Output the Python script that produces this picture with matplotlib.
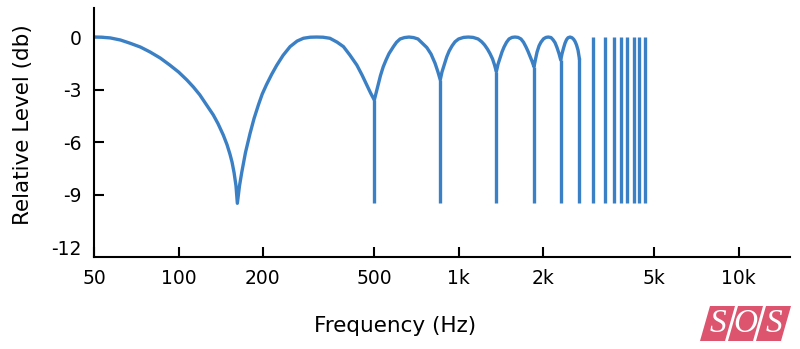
import matplotlib
matplotlib.use("Agg")
import matplotlib.pyplot as plt
from matplotlib.patches import Polygon

# comb filter response
lobe1_f = [50, 53, 57, 62, 67, 73, 79, 86, 93, 100, 107, 113, 119, 126, 133, 138.3,
           144.4, 148.9, 152.6, 155.2, 157.8, 160.3, 162.1]
lobe1_db = [0.0, -0.01, -0.05, -0.17, -0.35, -0.57, -0.85, -1.2, -1.6, -2.0, -2.45,
            -2.86, -3.3, -3.89, -4.45, -4.95, -5.6, -6.15, -6.7, -7.15, -7.75, -8.5, -9.5]

lobe2_f = [162.1, 165, 168, 173.3, 180, 186, 193, 199, 206, 215, 224, 236, 250, 265, 279,
           295, 311, 328, 347, 368, 388, 409, 433, 452, 470, 485, 500]
lobe2_db = [-9.5, -8.5, -7.75, -6.6, -5.5, -4.65, -3.85, -3.25, -2.72, -2.13, -1.62,
            -1.05, -0.55, -0.23, -0.07, -0.01, 0.0, -0.01, -0.07, -0.29, -0.55, -1.03,
            -1.6, -2.17, -2.74, -3.2, -3.6]

lobe3_f = [500, 509, 515, 526, 538, 551, 564, 585, 600, 618, 641, 665, 690, 716, 740,
           770, 797, 824, 844, 860]
lobe3_db = [-3.6, -3.1, -2.75, -2.2, -1.7, -1.3, -0.95, -0.55, -0.3, -0.11, -0.03, 0.0,
            -0.03, -0.11, -0.33, -0.6, -0.97, -1.5, -2.0, -2.45]

lobe4_f = [860, 872, 884, 907, 925, 948, 971, 1000, 1042, 1083, 1126, 1174, 1209, 1238,
           1269, 1295, 1322, 1344, 1364]
lobe4_db = [-2.45, -2.0, -1.7, -1.13, -0.8, -0.5, -0.27, -0.11, -0.02, 0.0, -0.02, -0.11,
            -0.27, -0.45, -0.7, -0.95, -1.25, -1.6, -1.98]

lobe5_f = [1364, 1383, 1406, 1429, 1453, 1483, 1514, 1552, 1590, 1630, 1670, 1706, 1741,
           1770, 1799, 1829, 1859]
lobe5_db = [-1.98, -1.55, -1.2, -0.85, -0.57, -0.3, -0.11, -0.02, 0.0, -0.02, -0.11, -0.3,
            -0.57, -0.82, -1.09, -1.38, -1.7]

lobe6_f = [1859, 1883, 1906, 1938, 1969, 2011, 2052, 2091, 2138, 2173, 2210, 2246, 2284, 2316]
lobe6_db = [-1.7, -1.25, -0.86, -0.5, -0.29, -0.1, -0.02, 0.0, -0.03, -0.15, -0.32, -0.6,
            -0.95, -1.31]

lobe7_f = [2316, 2341, 2370, 2399, 2429, 2459, 2500, 2541, 2573, 2605, 2637, 2670, 2698]
lobe7_db = [-1.31, -0.95, -0.63, -0.35, -0.15, -0.04, 0.0, -0.04, -0.12, -0.25, -0.45,
            -0.75, -1.2]

# narrow notches drawn as straight drops
notch_f = [500, 860, 1364, 1859, 2316, 2698]
notch_top = [-3.6, -2.45, -1.98, -1.7, -1.31, -1.2]
notch_floor = -9.5

# above ~3k the lobes are just lines
spike_f = [3013, 3325, 3590, 3793, 4005, 4231, 4418, 4645]

x_ticks = [50, 100, 200, 500, 1000, 2000, 5000, 10000]
x_labels = ["50", "100", "200", "500", "1k", "2k", "5k", "10k"]
y_ticks = [-12, -9, -6, -3, 0]
y_labels = ["-12", "-9", "-6", "-3", "0"]

blue = "#3b80c4"
red = "#e8473a"

plt.rcParams["font.family"] = "DejaVu Sans"

fig = plt.figure(figsize=(8, 3.49), dpi=100)
ax = fig.add_axes([0.1179, 0.2645, 0.8696, 0.7126])

curve_f = lobe1_f + lobe2_f + lobe3_f + lobe4_f + lobe5_f + lobe6_f + lobe7_f
curve_db = lobe1_db + lobe2_db + lobe3_db + lobe4_db + lobe5_db + lobe6_db + lobe7_db
ax.plot(curve_f, curve_db, color=blue, lw=2.4, solid_joinstyle="round")
ax.vlines(notch_f, notch_floor, notch_top, color=blue, lw=2.4, capstyle="butt")
ax.vlines(spike_f, notch_floor, 0, color=blue, lw=2.4, capstyle="butt")

ax.set_xscale("log")
ax.set_xlim(50, 15260)
ax.set_ylim(-12.55, 1.66)
ax.set_xticks(x_ticks)
ax.set_xticklabels(x_labels)
ax.set_yticks(y_ticks)
ax.set_yticklabels(y_labels)
ax.xaxis.set_minor_locator(matplotlib.ticker.NullLocator())

for s in ["top", "right"]:
    ax.spines[s].set_visible(False)
for s in ["left", "bottom"]:
    ax.spines[s].set_linewidth(1.5)

ax.tick_params(direction="in", length=7, width=1.5, labelsize=13.5, pad=9)
yt = ax.yaxis.get_major_ticks()
yt[0].tick1line.set_visible(False)
yt[1].tick1line.set_color(red)

ax.set_xlabel("Frequency (Hz)", fontsize=15.5, va="top")
ax.xaxis.set_label_coords(0.432, -0.238)
ax.set_ylabel("Relative Level (db)", fontsize=15.5)
ax.yaxis.set_label_coords(-0.088, 0.53)

# SOS logo in the corner
logo_red = "#dc546e"
for i, letter in enumerate("SOS"):
    x0 = 710 + 28 * i
    pts = [(x0, 306), (x0 + 25, 306), (x0 + 15, 341), (x0 - 10, 341)]
    poly = Polygon([(px / 800, 1 - py / 349) for px, py in pts], closed=True,
                   transform=fig.transFigure, facecolor=logo_red, edgecolor="none")
    fig.add_artist(poly)
    fig.text((x0 + 7.5) / 800, 1 - 324 / 349, letter, color="white",
             fontsize=24, family="Liberation Serif", style="italic",
             ha="center", va="center")

fig.savefig("out.png", dpi=100)
